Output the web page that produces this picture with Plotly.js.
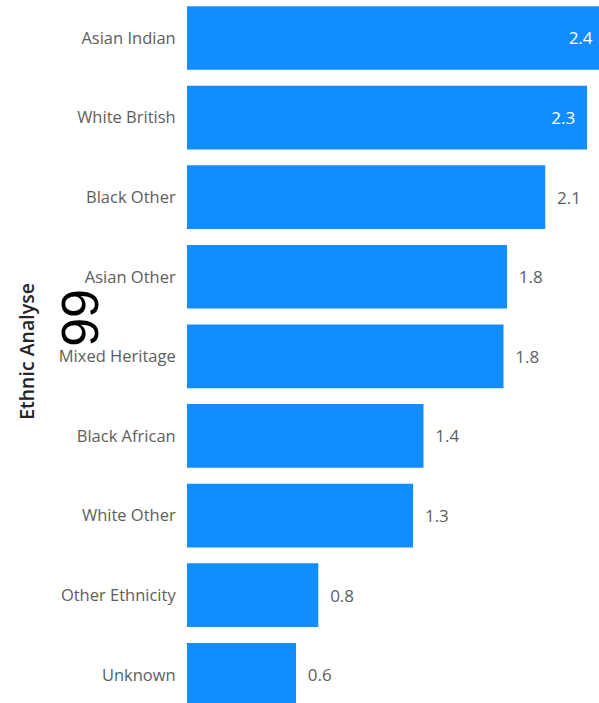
<!DOCTYPE html>
<html>
<head>
<meta charset="utf-8">
<script src="https://cdn.plot.ly/plotly-3.0.1.min.js"></script>
<style>html,body{margin:0;padding:0;background:#fff;}#chart{width:599px;height:703px;}</style>
</head>
<body>
<div id="chart"></div>
<script>
const categories = ["Asian Indian","White British","Black Other","Asian Other","Mixed Heritage","Black African","White Other","Other Ethnicity","Unknown"];
const values = [2.40, 2.30, 2.06, 1.84, 1.82, 1.36, 1.30, 0.755, 0.627];
const labelPositions = ["inside","inside","outside","outside","outside","outside","outside","outside","outside"];
const axisTitle = "Ethnic Analyse";
const overlayText = "99";

const nb = "\u00a0";
const templates = labelPositions.map(p => p === "inside" ? "%{x:.1f}" + nb + nb : nb + nb + "%{x:.1f}");

const trace = {
  type: "bar",
  orientation: "h",
  y: categories,
  x: values,
  marker: {color: "#118DFF"},
  texttemplate: templates,
  textposition: labelPositions,
  insidetextanchor: "end",
  insidetextfont: {color: "#FFFFFF", size: 17, family: "Open Sans"},
  outsidetextfont: {color: "#605E5C", size: 17, family: "Open Sans"},
  constraintext: "none",
  hoverinfo: "none",
  cliponaxis: true
};

const layout = {
  width: 599,
  height: 703,
  margin: {l: 187, r: 0, t: 0, b: 0, pad: 0},
  paper_bgcolor: "#FFFFFF",
  plot_bgcolor: "#FFFFFF",
  showlegend: false,
  bargap: 0.2,
  font: {family: "Open Sans", color: "#605E5C", size: 16.5},
  xaxis: {
    range: [0, 2.369],
    visible: false,
    showgrid: false,
    zeroline: false,
    fixedrange: true
  },
  yaxis: {
    type: "category",
    range: [8.355, -0.477],
    showgrid: false,
    zeroline: false,
    showline: false,
    ticks: "outside",
    ticklen: 7,
    tickcolor: "rgba(0,0,0,0)",
    tickfont: {family: "Open Sans", size: 16.5, color: "#605E5C"},
    automargin: false,
    title: {text: axisTitle, standoff: 18, font: {family: "Open Sans", size: 19.5, color: "#252423", weight: 600}}
  },
  annotations: [{
    text: overlayText,
    xref: "paper", yref: "paper",
    x: -0.26, y: 0.5477,
    xanchor: "center", yanchor: "middle",
    showarrow: false,
    textangle: -90,
    font: {family: "Liberation Sans", size: 52, color: "#000000"}
  }]
};

Plotly.newPlot("chart", [trace], layout, {displayModeBar: false, staticPlot: true});
</script>
</body>
</html>
